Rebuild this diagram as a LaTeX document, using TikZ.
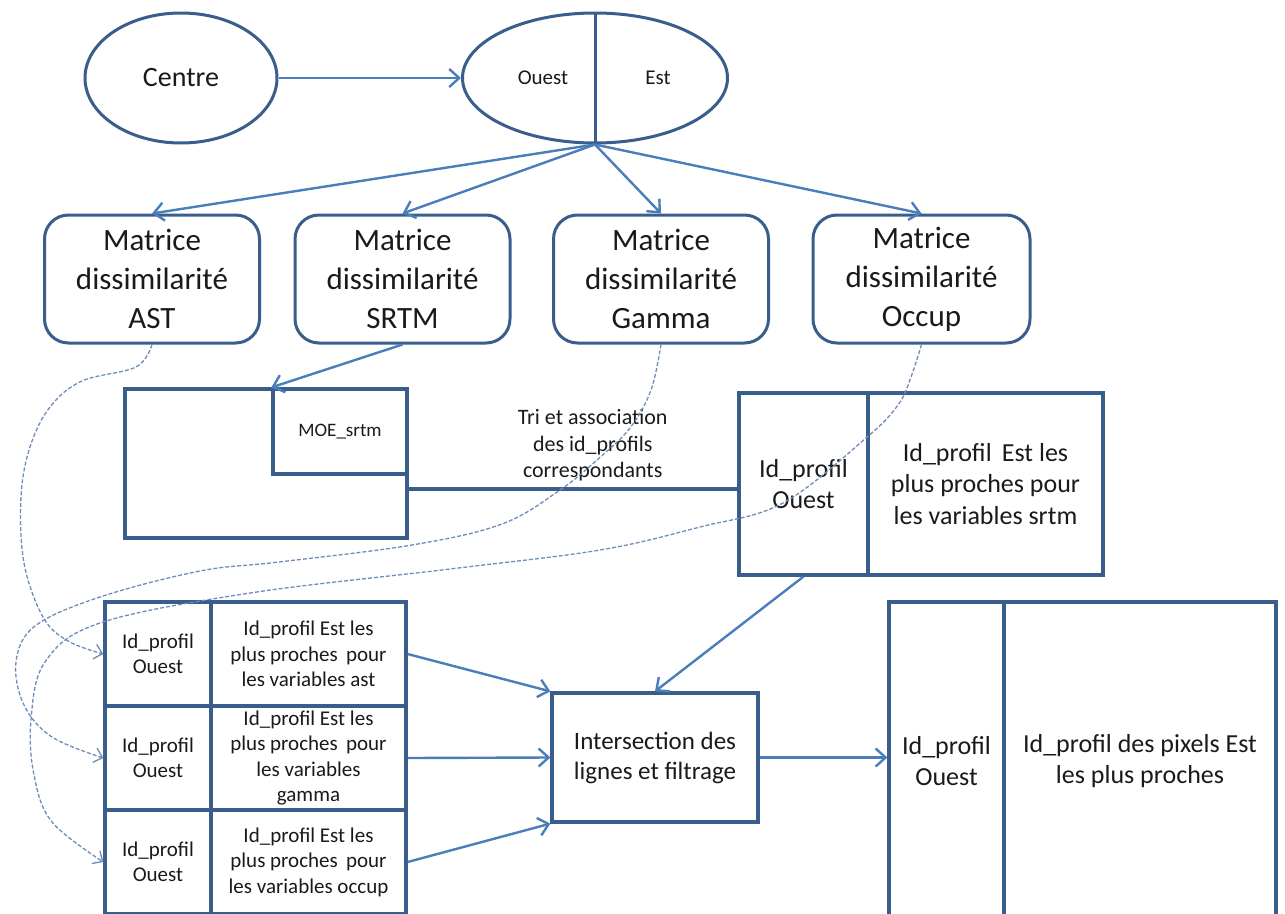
\documentclass[tikz,border=0pt]{standalone}
\usepackage{fontspec}
\setmainfont{Carlito}
\usetikzlibrary{arrows.meta,shapes.geometric,calc}
\definecolor{boxc}{HTML}{3A5E8C}
\definecolor{arrc}{HTML}{4A7EBB}
\definecolor{dashc}{HTML}{6F8DB9}
\definecolor{txtc}{HTML}{1A1A1A}
\tikzset{
  box/.style={draw=boxc, line width=3.2pt, rectangle, inner sep=0pt, align=center, text=txtc},
  rbox/.style={box, line width=3pt, rounded corners=24pt, minimum width=215pt, minimum height=128pt, font={\fontsize{31}{39}\selectfont}},
  ell/.style={draw=boxc, ellipse, line width=3pt, inner sep=0pt, text=txtc},
  arr/.style={draw=arrc, line width=2.4pt, -{Straight Barb[length=10pt,width=18pt]}},
  lnk/.style={draw=boxc, line width=3.2pt},
  dsh/.style={draw=dashc, line width=1.3pt, dash pattern=on 4pt off 2pt, -{Straight Barb[length=8pt,width=15pt]}},
  tcell/.style={box, font={\fontsize{21}{25.5}\selectfont}},
  mcell/.style={box, font={\fontsize{26}{31.5}\selectfont}},
  lbl/.style={align=center, inner sep=0pt, text=txtc},
}
\begin{document}
\begin{tikzpicture}[x=1pt,y=-1pt]
\useasboundingbox (0,0) rectangle (1285,913);
\clip (0,0) rectangle (1285,913);
\fill[white] (0,0) rectangle (1285,913);

% top ellipses
\node[ell, minimum width=192pt, minimum height=130pt, font={\fontsize{28}{34}\selectfont}] (centre) at (181,78) {Centre};
\node[ell, minimum width=265pt, minimum height=130pt] (oe) at (595,78) {};
\draw[lnk, line width=3pt] (oe.north) -- (oe.south);
\node[lbl, font={\fontsize{21}{25}\selectfont}] (ouest) at (543,78) {Ouest};
\node[lbl, font={\fontsize{21}{25}\selectfont}] (est) at (658,78) {Est};
\coordinate (conv) at (oe.south);

% matrices
\node[rbox] (ast) at (152,279) {Matrice\\dissimilarité\\AST};
\node[rbox] (srtm) at (402.5,279) {Matrice\\dissimilarité\\SRTM};
\node[rbox] (gam) at (661,279) {Matrice\\dissimilarité\\Gamma};
\node[rbox, minimum width=217pt] (occ) at (921.5,279) {Matrice\\dissimilarité\\Occup};

% MOE box
\node[box, minimum width=282pt, minimum height=149pt] (moe) at (266,463.5) {};
\node[box, minimum width=134pt, minimum height=85pt, font={\fontsize{19}{23}\selectfont}] (moein) at (340,431.5) {MOE\_srtm};

% srtm result box
\node[mcell, minimum width=129pt, minimum height=182pt] (srtmL) at (803.5,484) {Id\_profil\\Ouest};
\node[mcell, minimum width=235pt, minimum height=182pt] (srtmR) at (985.5,484) {Id\_profil\, Est les\\plus proches pour\\les variables srtm};

% left table
\node[tcell, minimum width=106pt, minimum height=104pt] (r1L) at (158,654) {Id\_profil\\Ouest};
\node[tcell, minimum width=195pt, minimum height=104pt] (r1R) at (308.5,654) {Id\_profil Est les\\plus proches\, pour\\les variables ast};
\node[tcell, minimum width=106pt, minimum height=104pt] (r2L) at (158,758) {Id\_profil\\Ouest};
\node[tcell, minimum width=195pt, minimum height=104pt] (r2R) at (308.5,758) {Id\_profil Est les\\plus proches\, pour\\les variables\\gamma};
\node[tcell, minimum width=106pt, minimum height=104pt] (r3L) at (158,862) {Id\_profil\\Ouest};
\node[tcell, minimum width=195pt, minimum height=104pt] (r3R) at (308.5,862) {Id\_profil Est les\\plus proches\, pour\\les variables occup};

% intersection
\node[box, minimum width=206pt, minimum height=129pt, font={\fontsize{25}{30}\selectfont}] (inter) at (655,757.5) {Intersection des\\lignes et filtrage};

% output
\node[mcell, minimum width=115pt, minimum height=318pt] (outL) at (946.5,761) {Id\_profil\\Ouest};
\node[mcell, minimum width=272pt, minimum height=318pt] (outR) at (1140,761) {Id\_profil des pixels Est\\les plus proches};

% arrows
\draw[arr] (centre.east) -- (oe.west);
\draw[arr] (conv) -- (ast.north);
\draw[arr] (conv) -- (srtm.north);
\draw[arr] (conv) -- (gam.north);
\draw[arr] (conv) -- (occ.north);
\draw[arr] (srtm.south) -- (moein.north west);
\draw[lnk] (moe.east |- 0,489) -- (srtmL.west |- 0,489)
  node[lbl, pos=0.56, above=6pt, font={\fontsize{22}{26.5}\selectfont}] (tri) {Tri et association\\des id\_profils\\correspondants};
\draw[arr] (srtmL.south) -- (inter.north);
\draw[arr] (r1R.east) -- (inter.north west);
\draw[arr] (r2R.east) -- (inter.west);
\draw[arr] (r3R.east) -- (inter.south west);
\draw[arr] (inter.east) -- (outL.west |- inter.east);

% dashed curves
\draw[dsh] plot[smooth, tension=0.6] coordinates {(ast.south) (136,367) (82,381) (50,407) (30,447) (21,497) (24,563) (43,617) (68,641) (r1L.west)};
\draw[dsh] plot[smooth, tension=0.6] coordinates {(gam.south) (651,390) (630,428) (597,460) (560,490) (502,524) (412,545) (279,562) (200,571) (100,597) (35,626) (16,662) (24,705) (52,737) (r2L.west)};
\draw[dsh] plot[smooth, tension=0.6] coordinates {(occ.south) (911,377) (898,405) (866,438) (783,503) (700,527) (600,550) (450,569) (250,593) (100,623) (45,662) (31,720) (34,775) (52,822) (r3L.west)};
\end{tikzpicture}
\end{document}
